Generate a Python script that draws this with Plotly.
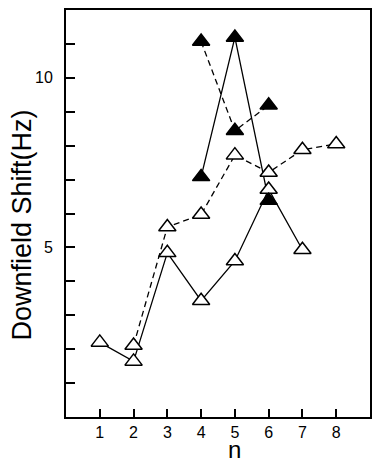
import plotly.graph_objects as go

# Downfield shift (Hz) versus n for four series
n_open_solid = [1, 2, 3, 4, 5, 6, 7]
shift_open_solid = [2.20, 1.64, 4.84, 3.43, 4.60, 6.71, 4.93]

n_open_dashed = [2, 3, 4, 5, 6, 7, 8]
shift_open_dashed = [2.11, 5.60, 5.97, 7.72, 7.21, 7.88, 8.05]

n_filled_solid = [4, 5, 6]
shift_filled_solid = [7.08, 11.19, 6.38]

n_filled_dashed = [4, 5, 6]
shift_filled_dashed = [11.07, 8.44, 9.19]

x_ticks = [1, 2, 3, 4, 5, 6, 7, 8]
y_ticks = [1, 2, 3, 4, 5, 6, 7, 8, 9, 10, 11]
y_labeled = {5: "5", 10: "10"}

FONT = "Liberation Sans"
INK = "black"

series = [
    (n_open_solid, shift_open_solid, "solid", "white"),
    (n_open_dashed, shift_open_dashed, "6px,4px", "white"),
    (n_filled_solid, shift_filled_solid, "solid", INK),
    (n_filled_dashed, shift_filled_dashed, "6px,4px", INK),
]

fig = go.Figure()

# connecting lines first so every marker sits above them
for xs, ys, dash, _ in series:
    fig.add_trace(go.Scatter(
        x=xs, y=ys, mode="lines",
        line=dict(color=INK, width=1.3, dash=dash),
        hoverinfo="skip", showlegend=False,
    ))

for xs, ys, _, fill in series:
    fig.add_trace(go.Scatter(
        x=xs, y=ys, mode="markers",
        marker=dict(symbol="triangle-up", size=15, color=fill,
                    line=dict(color=INK, width=1.5)),
        showlegend=False,
    ))

fig.update_xaxes(
    range=[0, 9], tickvals=x_ticks, ticktext=[str(v) for v in x_ticks],
    ticks="inside", ticklen=8, tickwidth=1.5, tickcolor=INK,
    showline=True, linecolor=INK, linewidth=1.8, mirror=True,
    showgrid=False, zeroline=False,
    tickfont=dict(family=FONT, size=16, color=INK),
    ticklabelstandoff=0,
)
fig.update_yaxes(
    range=[0, 12], tickvals=y_ticks,
    ticktext=[y_labeled.get(v, "") for v in y_ticks],
    ticks="inside", ticklen=9, tickwidth=1.5, tickcolor=INK,
    showline=True, linecolor=INK, linewidth=1.8, mirror=True,
    showgrid=False, zeroline=False,
    tickfont=dict(family=FONT, size=16, color=INK),
    ticklabelstandoff=8,
)

# axis titles placed as annotations for precise positioning
fig.add_annotation(
    text="Downfield Shift(Hz)", textangle=-90,
    x=0, xref="paper", xshift=-45, xanchor="center",
    y=0.5, yref="paper", yshift=-12, yanchor="middle",
    showarrow=False,
    font=dict(family=FONT, size=27, color=INK),
)
fig.add_annotation(
    text="n", x=5, xref="x", y=0, yref="paper",
    yshift=-17, yanchor="top", showarrow=False,
    font=dict(family=FONT, size=24, color=INK),
)

fig.update_layout(
    width=373, height=459,
    margin=dict(l=66, r=1, t=10, b=42),
    paper_bgcolor="white", plot_bgcolor="white",
)

fig.write_html("out.html")
